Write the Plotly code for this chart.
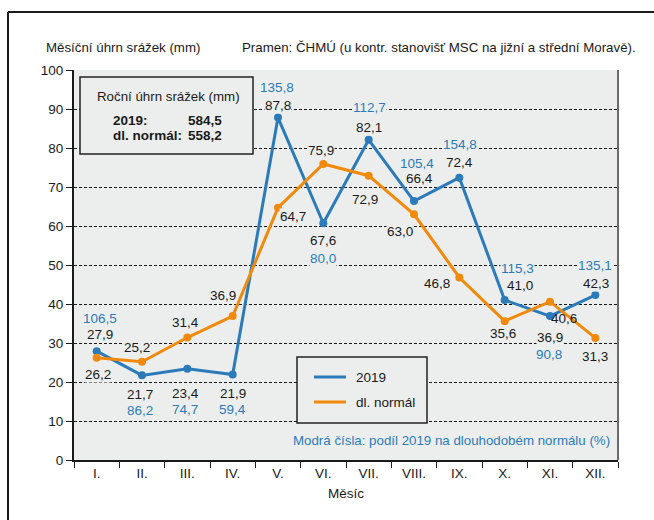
import plotly.graph_objects as go

months = ["I.", "II.", "III.", "IV.", "V.", "VI.", "VII.", "VIII.", "IX.", "X.", "XI.", "XII."]
rain_2019 = [27.9, 21.7, 23.4, 21.9, 87.8, 60.7, 82.1, 66.4, 72.4, 41.0, 36.9, 42.3]
rain_normal = [26.2, 25.2, 31.4, 36.9, 64.7, 75.9, 72.9, 63.0, 46.8, 35.6, 40.6, 31.3]
pct_of_normal = [106.5, 86.2, 74.7, 59.4, 135.8, 80.0, 112.7, 105.4, 154.8, 115.3, 90.8, 135.1]
# value labels as printed in the source (VI. printed as 67,6)
labels_2019 = ["27,9", "21,7", "23,4", "21,9", "87,8", "67,6", "82,1", "66,4", "72,4", "41,0", "36,9", "42,3"]
annual_2019 = "584,5"
annual_normal = "558,2"

BLUE = "#2b7bbb"
ORANGE = "#f18a0c"
BG = "#eceeed"
INK = "#1a1a1a"
FONT = "Liberation Sans, Arial, sans-serif"
FS = 13.5

# label offsets (dx, dy) in pixels — styling only
off_2019 = [(3, 17), (-2, -19), (-2, -25), (0, -19), (0, 12), (0, -17), (0, 12), (5, 23), (0, 15), (15, 15), (0, -21), (1, 12)]
off_pct = [(3, 33), (-2, -35), (-2, -41), (0, -35), (-1, 30), (0, -35), (1, 32), (3, 38), (1, 33), (13, 32), (-1, -38), (0, 30)]
off_norm = [(1, -17), (-5, 14), (-2, 15), (-10, 21), (15, -9), (-2, 13), (-4, -24), (-14, -17), (-22, -6), (-2, -12), (14, -17), (0, -19)]

W, H = 654, 520
L, R, T, B = 74, 618, 70, 460


def px(x):
    return (x - L) / (R - L)


def py(y):
    return (B - y) / (B - T)


fig = go.Figure()
fig.add_trace(go.Scatter(x=months, y=rain_2019, mode="lines+markers", name="2019",
                         line=dict(color=BLUE, width=3), marker=dict(size=8, color=BLUE)))
fig.add_trace(go.Scatter(x=months, y=rain_normal, mode="lines+markers", name="dl. normál",
                         line=dict(color=ORANGE, width=3), marker=dict(size=8, color=ORANGE)))

ann = []
fmt = lambda v: f"{v:.1f}".replace(".", ",")
lab = dict(showarrow=False, bgcolor=BG, borderpad=0)
for i, m in enumerate(months):
    ann.append(dict(x=m, y=rain_2019[i], text=labels_2019[i],
                    xshift=off_2019[i][0], yshift=off_2019[i][1], font=dict(color=INK, size=FS), **lab))
    ann.append(dict(x=m, y=rain_2019[i], text=fmt(pct_of_normal[i]),
                    xshift=off_pct[i][0], yshift=off_pct[i][1], font=dict(color=BLUE, size=FS), **lab))
    nl = dict(lab)
    if m == "XI.":
        nl["bgcolor"] = "rgba(0,0,0,0)"
    ann.append(dict(x=m, y=rain_normal[i], text=fmt(rain_normal[i]),
                    xshift=off_norm[i][0], yshift=off_norm[i][1], font=dict(color=INK, size=FS), **nl))

paper = dict(xref="paper", yref="paper", showarrow=False)
ann += [
    dict(x=px(44), y=py(48), text="Měsíční úhrn srážek (mm)", xanchor="left", yanchor="middle",
         font=dict(size=13.3, color=INK), **paper),
    dict(x=px(240), y=py(48), text="Pramen: ČHMÚ (u kontr. stanovišť MSC na jižní a střední Moravě).",
         xanchor="left", yanchor="middle", font=dict(size=13.3, color=INK), **paper),
    dict(x=px(168), y=py(97), text="Roční úhrn srážek (mm)", xanchor="center", yanchor="middle",
         font=dict(size=13.3, color=INK), **paper),
    dict(x=px(111), y=py(120), text="<b>2019:</b>", xanchor="left", yanchor="middle",
         font=dict(size=FS, color=INK), **paper),
    dict(x=px(224), y=py(120), text=f"<b>{annual_2019}</b>", xanchor="right", yanchor="middle",
         font=dict(size=FS, color=INK), **paper),
    dict(x=px(111), y=py(135), text="<b>dl. normál:</b>", xanchor="left", yanchor="middle",
         font=dict(size=FS, color=INK), **paper),
    dict(x=px(224), y=py(135), text=f"<b>{annual_normal}</b>", xanchor="right", yanchor="middle",
         font=dict(size=FS, color=INK), **paper),
    dict(x=px(354), y=py(377), text="2019", xanchor="left", yanchor="middle",
         font=dict(size=FS, color=INK), **paper),
    dict(x=px(354), y=py(402), text="dl. normál", xanchor="left", yanchor="middle",
         font=dict(size=FS, color=INK), **paper),
    dict(x=px(451), y=py(440), text="Modrá čísla: podíl 2019 na dlouhodobém normálu (%)", xanchor="center",
         yanchor="middle", font=dict(size=13.3, color=BLUE), **paper),
]

shapes = [
    # outer frame (left and top)
    dict(type="line", xref="paper", yref="paper", x0=px(8), x1=px(8), y0=py(12), y1=py(530),
         line=dict(color=INK, width=2)),
    dict(type="line", xref="paper", yref="paper", x0=px(8), x1=px(660), y0=py(12), y1=py(12),
         line=dict(color=INK, width=2)),
    # right edge of plot area
    dict(type="line", xref="paper", yref="paper", x0=1, x1=1, y0=0, y1=1,
         line=dict(color="#6a6a6a", width=2)),
    # info box
    dict(type="rect", xref="paper", yref="paper", x0=px(80), x1=px(253), y0=py(154), y1=py(77),
         fillcolor=BG, line=dict(color="#222", width=1.5), layer="above"),
    # legend box
    dict(type="rect", xref="paper", yref="paper", x0=px(297), x1=px(427), y0=py(423), y1=py(357),
         fillcolor=BG, line=dict(color="#222", width=1.5), layer="above"),
    dict(type="line", xref="paper", yref="paper", x0=px(314), x1=px(346), y0=py(377), y1=py(377),
         line=dict(color=BLUE, width=3), layer="above"),
    dict(type="line", xref="paper", yref="paper", x0=px(314), x1=px(346), y0=py(402), y1=py(402),
         line=dict(color=ORANGE, width=3), layer="above"),
]

fig.update_layout(
    width=W, height=H,
    margin=dict(l=L, r=W - R, t=T, b=H - B, pad=0, autoexpand=False),
    paper_bgcolor="white", plot_bgcolor=BG,
    font=dict(family=FONT, size=FS, color=INK),
    showlegend=False,
    annotations=ann, shapes=shapes,
    xaxis=dict(type="category", tickson="boundaries", ticks="outside", ticklen=6, tickcolor=INK,
               showline=True, linecolor=INK, linewidth=2, showgrid=False,
               range=[-0.5, 11.5], tickfont=dict(size=FS, color=INK), automargin=False,
               title=dict(text="Měsíc", font=dict(size=FS, color=INK), standoff=8)),
    yaxis=dict(range=[0, 100], dtick=10, ticks="outside", ticklen=6, tickcolor=INK,
               showline=True, linecolor=INK, linewidth=2, automargin=False,
               showgrid=True, gridcolor=INK, gridwidth=1, griddash="3px,2px",
               zeroline=False, tickfont=dict(size=FS, color=INK)),
)

fig.write_html("out.html", config={"displayModeBar": False},
               post_script="document.body.style.margin='0px';")
